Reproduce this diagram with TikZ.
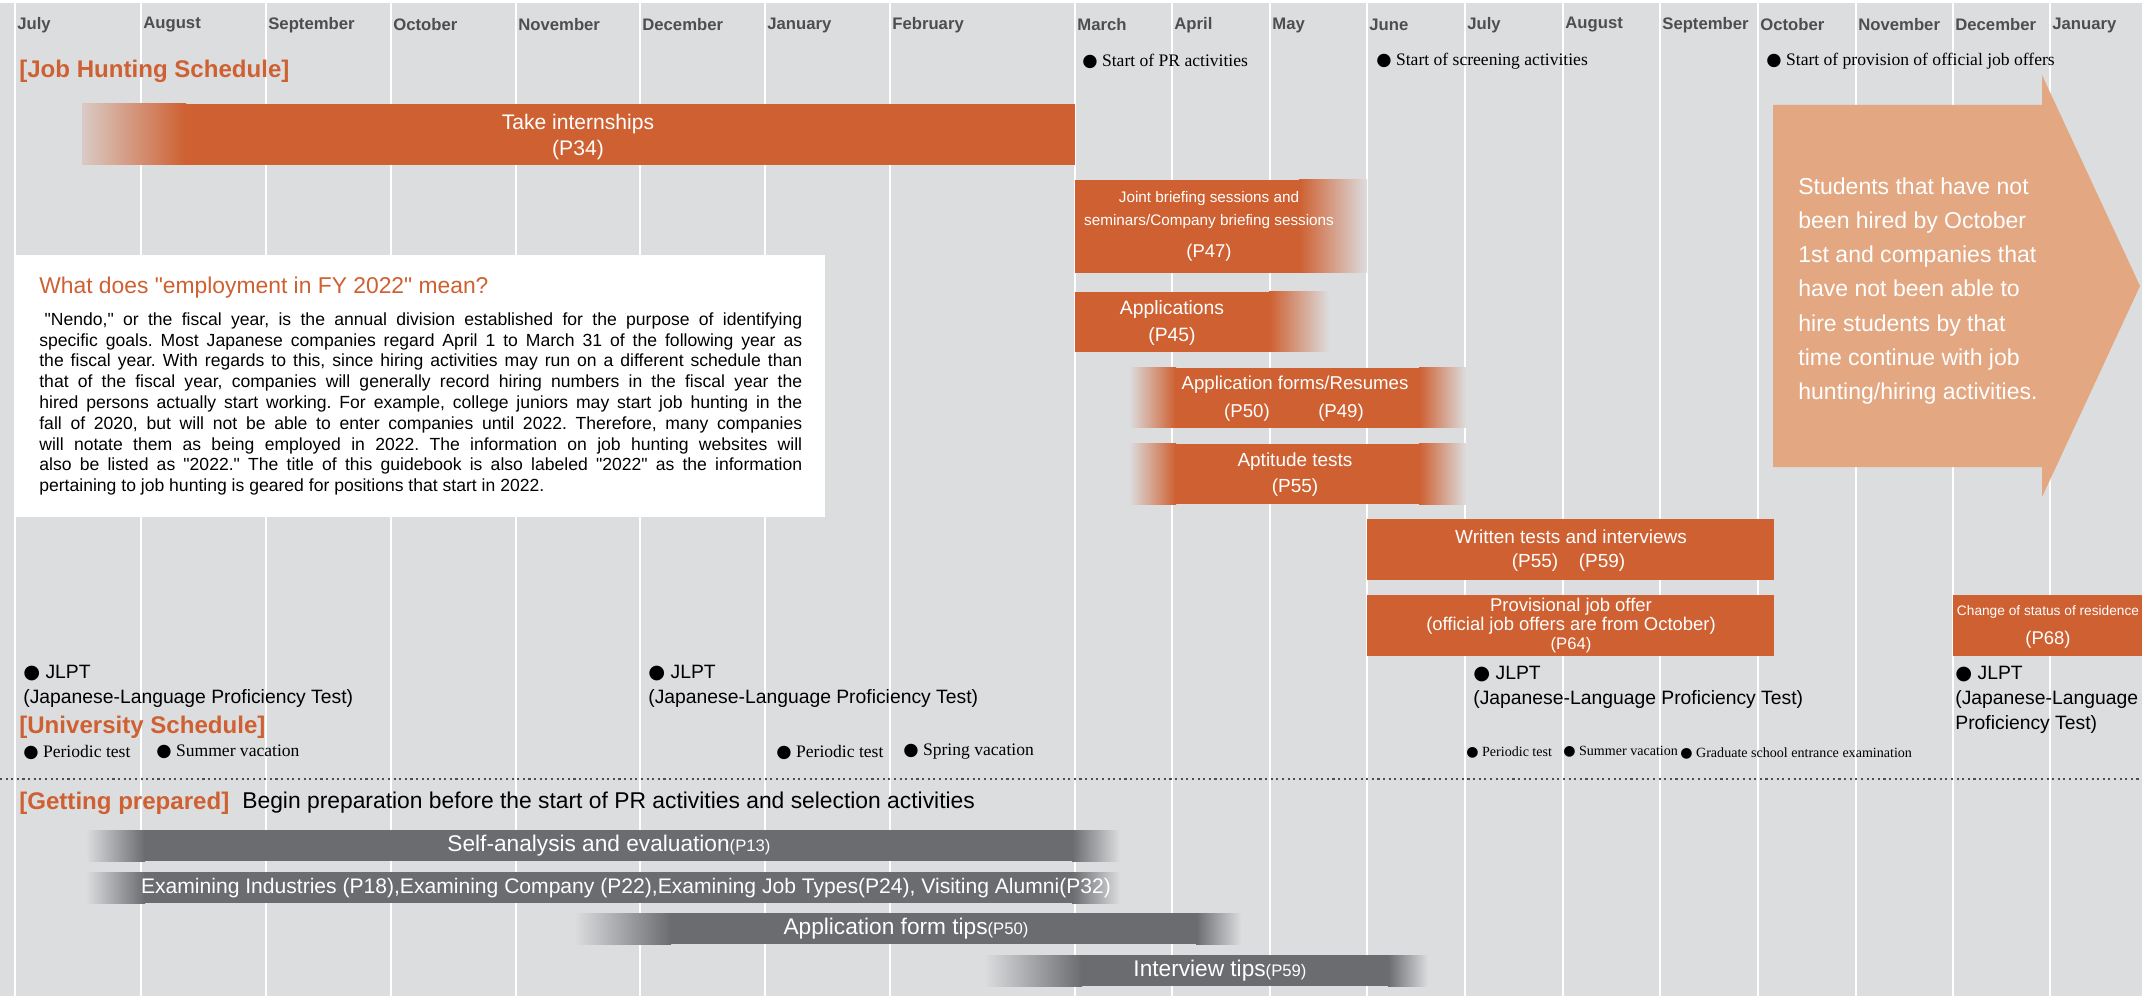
\documentclass[tikz,border=0pt]{standalone}
\usepackage{fontspec}
\newfontfamily\mainsans{Liberation Sans}
\newfontfamily\timesf{Liberation Serif}
\newfontfamily\dotf{DejaVu Sans}
\definecolor{bgray}{RGB}{220,221,223}
\definecolor{jorange}{RGB}{206,96,49}
\definecolor{lorange}{RGB}{227,167,130}
\definecolor{dgray}{RGB}{107,108,112}
\definecolor{mtext}{RGB}{78,78,80}
\newcommand{\dotmark}{{\dotf ●}}
\newcommand{\fs}[2]{\fontsize{#1}{#2}\selectfont}

\begin{document}
\mainsans\frenchspacing
\begin{tikzpicture}[x=0.02cm,y=-0.02cm]
\tikzstyle{month}=[anchor=west,inner sep=0pt,text=mtext,font=\fs{9.5}{11}\bfseries]
\tikzstyle{head}=[anchor=west,inner sep=0pt,text=jorange,font=\fs{13.7}{16}\bfseries]
\tikzstyle{event}=[anchor=west,inner sep=0pt,font=\timesf\fs{10}{12}]
\tikzstyle{jlpt}=[anchor=west,align=left,inner sep=0pt,font=\fs{11}{14.2}]
\tikzstyle{bartext}=[text=white,align=center,inner sep=0pt]
\useasboundingbox (0,0) rectangle (2142,996);
\fill[bgray] (0,3) rectangle (2142,996);
\foreach \x/\m [count=\i] in {15/July,141/August,266/September,391/October,516/November,640/December,765/January,890/February,1075/March,1172/April,1270/May,1367/June,1465/July,1563/August,1660/September,1758/October,1856/November,1953/December,2050/January}{
  \draw[white,line width=0.8pt] (\x,3) -- (\x,996);
  \node (m\i) [month] at (\x+2,25) {\m};
}

\node (jobhead) [head] at (19,71) {[Job Hunting Schedule]};
\node (prstart) [event] at (1082,61) {\dotmark\ Start of PR activities};
\node (screen) [event] at (1376,61) {\dotmark\ Start of screening activities};
\node (official) [event] at (1766,61) {\dotmark\ Start of provision of official job offers};

\shade[left color=jorange!15!bgray,right color=jorange] (82,104) rectangle (186,165);
\fill[jorange] (185,104) rectangle (1075,165);
\node (intern) [bartext,font=\fs{12}{14.8}] at (578,137) {Take internships\\(P34)};

\fill[jorange] (1075,180) rectangle (1300,273);
\shade[left color=jorange,right color=bgray] (1299,180) rectangle (1367,273);
\node (joint) [bartext,font=\fs{8.7}{13}] at (1209,210) {Joint briefing sessions and\\seminars/Company briefing sessions};
\node (p47) [bartext,font=\fs{10.5}{12}] at (1209,253) {(P47)};

\fill[jorange] (1075,292) rectangle (1270,352);
\shade[left color=jorange,right color=bgray] (1269,292) rectangle (1329,352);
\node (appl) [bartext,font=\fs{11}{15.4}] at (1172,323) {Applications\\(P45)};

\shade[left color=bgray,right color=jorange] (1129,368) rectangle (1176,428);
\fill[jorange] (1175,368) rectangle (1420,428);
\shade[left color=jorange,right color=bgray] (1419,368) rectangle (1466,428);
\node (forms) [bartext,font=\fs{10.6}{12}] at (1295,385) {Application forms/Resumes};
\node (p50) [bartext,font=\fs{10.6}{12}] at (1247,413) {(P50)};
\node (p49) [bartext,font=\fs{10.6}{12}] at (1341,413) {(P49)};

\shade[left color=bgray,right color=jorange] (1129,444) rectangle (1176,504);
\fill[jorange] (1175,444) rectangle (1420,504);
\shade[left color=jorange,right color=bgray] (1419,444) rectangle (1466,504);
\node (apti) [bartext,font=\fs{10.8}{14.8}] at (1295,475) {Aptitude tests\\(P55)};

\fill[jorange] (1367,519) rectangle (1774,580);
\node (written) [bartext,font=\fs{10.8}{12}] at (1571,537) {Written tests and interviews};
\node (p55) [bartext,font=\fs{10.8}{12}] at (1535,563) {(P55)};
\node (p59) [bartext,font=\fs{10.8}{12}] at (1602,563) {(P59)};

\fill[jorange] (1367,595) rectangle (1774,656);
\node (offer) [bartext,font=\fs{10.5}{10.8}] at (1571,626) {Provisional job offer\\(official job offers are from October)\\{\fs{9.5}{10.8}(P64)}};

\fill[jorange] (1953,595) rectangle (2142,656);
\node (status) [bartext,font=\fs{7.8}{9}] at (2048,612) {Change of status of residence};
\node (p68) [bartext,font=\fs{10.5}{12}] at (2048,640) {(P68)};

\fill[lorange] (1773,105) -- (2042,105) -- (2042,75) -- (2140,286) -- (2042,497) -- (2042,467) -- (1773,467) -- cycle;
\node (notyet) [anchor=west,align=left,inner sep=0pt,text=white,font=\fs{13.1}{19.4}] at (1798,291) {Students that have not\\been hired by October\\1st and companies that\\have not been able to\\hire students by that\\time continue with job\\hunting/hiring activities.};

\fill[white] (15,255) rectangle (825,517);
\node (fytitle) [anchor=west,inner sep=0pt,text=jorange,font=\fs{13}{15}] at (39,288) {What does "employment in FY 2022" mean?};
\node (fytext) [anchor=west,inner sep=0pt,text width=15.26cm,align=justify,font=\fs{10}{11.84}] at (39,404) {\hspace*{0.3em}"Nendo," or the fiscal year, is the annual division established for the purpose of identifying\linebreak specific goals. Most Japanese companies regard April 1 to March 31 of the following year as\linebreak the fiscal year. With regards to this, since hiring activities may run on a different schedule than\linebreak that of the fiscal year, companies will generally record hiring numbers in the fiscal year the\linebreak hired persons actually start working. For example, college juniors may start job hunting in the\linebreak fall of 2020, but will not be able to enter companies until 2022. Therefore, many companies\linebreak will notate them as being employed in 2022. The information on job hunting websites will\linebreak also be listed as "2022." The title of this guidebook is also labeled "2022" as the information\linebreak pertaining to job hunting is geared for positions that start in 2022.};

\node (jlpt1) [jlpt] at (23,686) {\dotmark\ JLPT\\(Japanese-Language Proficiency Test)};
\node (jlpt2) [jlpt] at (648,686) {\dotmark\ JLPT\\(Japanese-Language Proficiency Test)};
\node (jlpt3) [jlpt] at (1473,687) {\dotmark\ JLPT\\(Japanese-Language Proficiency Test)};
\node (jlpt4) [jlpt] at (1955,700) {\dotmark\ JLPT\\(Japanese-Language\\Proficiency Test)};

\node (unihead) [head] at (19,727) {[University Schedule]};
\node (periodic1) [event] at (23,752) {\dotmark\ Periodic test};
\node (summer1) [event] at (156,752) {\dotmark\ Summer vacation};
\node (periodic2) [event] at (776,752) {\dotmark\ Periodic test};
\node (spring) [event] at (903,752) {\dotmark\ Spring vacation};
\node (periodic3) [event,font=\timesf\fs{8}{10}] at (1466,752) {\dotmark\ Periodic test};
\node (summer2) [event,font=\timesf\fs{8}{10}] at (1563,752) {\dotmark\ Summer vacation};
\node (gradexam) [event,font=\timesf\fs{8}{10}] at (1680,753) {\dotmark\ Graduate school entrance examination};

\draw[dotted,line width=1.2pt,mtext] (0,779) -- (2142,779);

\node (prephead) [head] at (19,803) {[Getting prepared]};
\node (prepnote) [anchor=west,inner sep=0pt,font=\fs{13}{15}] at (242,803) {Begin preparation before the start of PR activities and selection activities};

\shade[left color=bgray,right color=dgray] (86,830) rectangle (145,861);
\fill[dgray] (144,830) rectangle (1073,861);
\shade[left color=dgray,right color=bgray] (1072,830) rectangle (1120,861);
\node (selfeval) [bartext,font=\fs{12.9}{15}] at (609,846) {Self-analysis and evaluation{\fs{9.5}{11}(P13)}};

\shade[left color=bgray,right color=dgray] (86,872) rectangle (145,903);
\fill[dgray] (144,872) rectangle (1073,903);
\shade[left color=dgray,right color=bgray] (1072,872) rectangle (1120,903);
\node (examine) [bartext,font=\fs{12}{14}] at (626,888) {Examining Industries (P18),Examining Company (P22),Examining Job Types(P24), Visiting Alumni(P32)};

\shade[left color=bgray,right color=dgray] (574,913) rectangle (671,944);
\fill[dgray] (670,913) rectangle (1197,944);
\shade[left color=dgray,right color=bgray] (1196,913) rectangle (1241,944);
\node (formtips) [bartext,font=\fs{12.9}{15}] at (906,929) {Application form tips{\fs{9.5}{11}(P50)}};

\shade[left color=bgray,right color=dgray] (984,955) rectangle (1082,986);
\fill[dgray] (1081,955) rectangle (1389,986);
\shade[left color=dgray,right color=bgray] (1388,955) rectangle (1428,986);
\node (intvtips) [bartext,font=\fs{12.9}{15}] at (1220,971) {Interview tips{\fs{9.5}{11}(P59)}};
\end{tikzpicture}
\end{document}
